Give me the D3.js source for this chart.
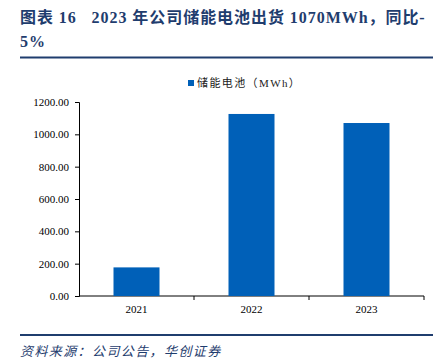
<!DOCTYPE html>
<head>
<meta charset="utf-8">
<title>储能电池出货</title>
<style>
  body { margin: 0; background: #fff; }
  svg { display: block; }
</style>
</head>
<body>
<svg width="445" height="361" id="svg1"></svg>
<script src="https://d3js.org/d3.v7.min.js"></script>
<script>

var years = ["2021", "2022", "2023"];
var shipments = [177, 1126, 1070];
var yTicks = [0, 200, 400, 600, 800, 1000, 1200];
var seriesName = "储能电池（MWh）";

var svg = d3.select("#svg1");
var navy = "#1F3D6E",
    barColor = "#0060B8",
    latin = "'Liberation Serif', 'Times New Roman', serif",
    cjk = "'Liberation Serif', 'Noto Sans CJK SC', serif";

// title, two lines
var title = svg.append("text")
    .attr("x", 20)
    .attr("fill", navy)
    .style("font-family", cjk)
    .style("font-size", "16px")
    .style("font-weight", "bold")
    .style("letter-spacing", "0.95px");
title.append("tspan").attr("x", 20).attr("y", 23)
    .text("图表 16\u00a0\u00a0\u00a02023 年公司储能电池出货 1070MWh，同比-");
title.append("tspan").attr("x", 20).attr("y", 47).text("5%");

svg.append("line")
    .attr("x1", 20).attr("x2", 433)
    .attr("y1", 57.5).attr("y2", 57.5)
    .attr("stroke", navy).attr("stroke-width", 2);

// chart area
var x = d3.scaleBand()
    .domain(years)
    .range([79, 424])
    .paddingInner(0.6)
    .paddingOuter(0.3);

var y = d3.scaleLinear()
    .domain([0, 1200])
    .range([296, 102]);

var yAxis = svg.append("g")
    .attr("transform", "translate(79,0)")
    .call(d3.axisLeft(y).tickValues(yTicks).tickFormat(d3.format(".2f")).tickSize(4).tickPadding(6));

var xAxis = svg.append("g")
    .attr("transform", "translate(0,296)")
    .call(d3.axisBottom(x).tickSize(0).tickPadding(9));

// x-axis ticks sit on band edges
svg.append("g").selectAll("line")
    .data(years.slice(1).concat(["end"]))
    .enter().append("line")
    .attr("x1", function(d, i) { return 79 + (i + 1) * x.step(); })
    .attr("x2", function(d, i) { return 79 + (i + 1) * x.step(); })
    .attr("y1", 296).attr("y2", 300)
    .attr("stroke", "#000");

[yAxis, xAxis].forEach(function(a) {
  a.select(".domain").attr("stroke", "#000");
  a.selectAll("text")
    .attr("fill", "#000")
    .style("font-family", latin)
    .style("font-size", "11px");
});
xAxis.select(".domain").attr("d", "M79,0H424");

svg.append("g").selectAll("rect")
    .data(shipments)
    .enter().append("rect")
    .attr("x", function(d, i) { return x(years[i]); })
    .attr("width", x.bandwidth())
    .attr("y", function(d) { return y(d); })
    .attr("height", function(d) { return y(0) - y(d); })
    .attr("fill", barColor);

// legend
svg.append("rect")
    .attr("x", 188).attr("y", 80)
    .attr("width", 6).attr("height", 6)
    .attr("fill", barColor);
svg.append("text")
    .attr("x", 197).attr("y", 87)
    .style("font-family", cjk)
    .style("font-size", "11px")
    .style("letter-spacing", "1.4px")
    .attr("fill", "#222")
    .text(seriesName);

// footer
svg.append("line")
    .attr("x1", 20).attr("x2", 433)
    .attr("y1", 335).attr("y2", 335)
    .attr("stroke", navy).attr("stroke-width", 2);

svg.append("text")
    .attr("x", 20).attr("y", 356)
    .attr("fill", navy)
    .style("font-family", cjk)
    .style("font-size", "13px")
    .style("font-style", "italic")
    .style("letter-spacing", "1.4px")
    .text("资料来源：公司公告，华创证券");

</script>
</body>
